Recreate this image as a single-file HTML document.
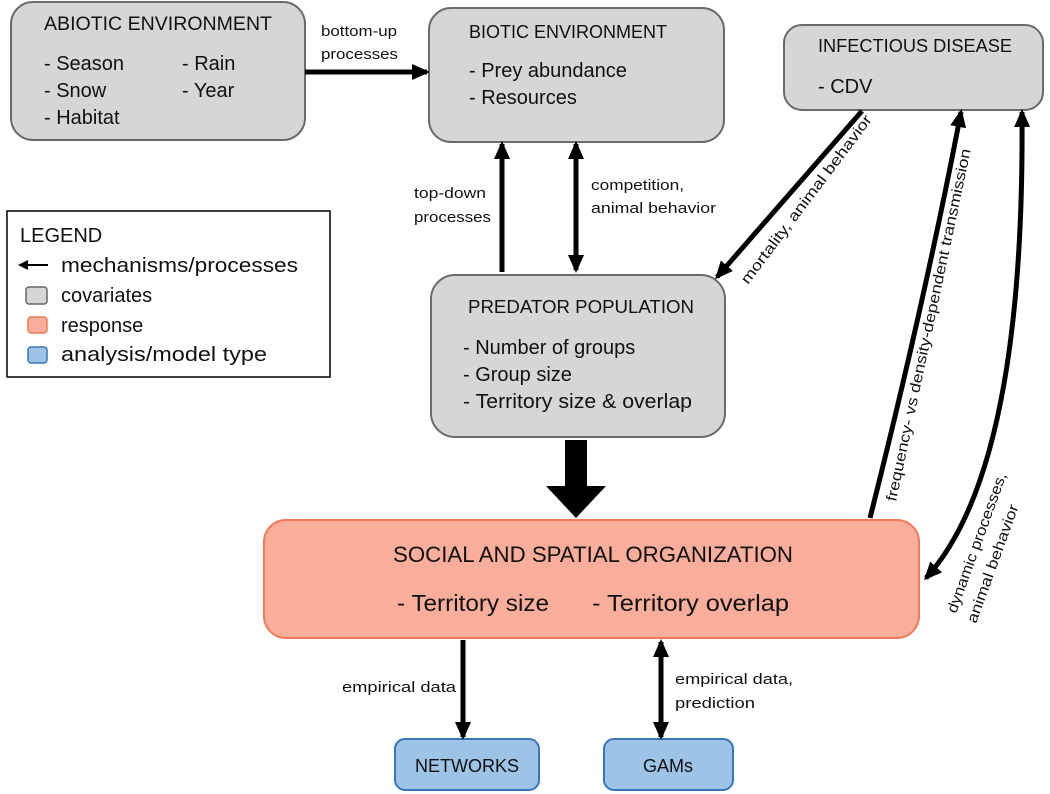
<!DOCTYPE html>
<html><head><meta charset="utf-8"><style>
html,body{margin:0;padding:0;background:#fff;}
svg{display:block;font-family:"Liberation Sans",sans-serif;}
</style></head><body>
<svg width="1050" height="794" viewBox="0 0 1050 794" xmlns="http://www.w3.org/2000/svg">
<defs>
<marker id="ah" markerWidth="10" markerHeight="10" refX="8" refY="5" orient="auto-start-reverse" markerUnits="userSpaceOnUse" viewBox="0 0 10 10">
<path d="M0,0 L10,5 L0,10 z" fill="#000"/>
</marker>
<marker id="ah2" markerWidth="18" markerHeight="18" refX="15" refY="9" orient="auto-start-reverse" markerUnits="userSpaceOnUse" viewBox="0 0 18 18">
<path d="M0,1 L18,9 L0,17 z" fill="#000"/>
</marker>
</defs>
<rect x="11" y="2" width="294" height="138" rx="22" fill="#d6d6d6" stroke="#6a6a6a" stroke-width="2"/>
<rect x="429" y="8" width="295" height="134" rx="22" fill="#d6d6d6" stroke="#6a6a6a" stroke-width="2"/>
<rect x="784" y="25" width="259" height="85" rx="18" fill="#d6d6d6" stroke="#6a6a6a" stroke-width="2"/>
<rect x="431" y="275" width="294" height="162" rx="24" fill="#d6d6d6" stroke="#6a6a6a" stroke-width="2"/>
<rect x="264" y="520" width="655" height="118" rx="22" fill="#f9ae9c" stroke="#f07a5a" stroke-width="2"/>
<rect x="395" y="739" width="144" height="51" rx="10" fill="#9dc3e6" stroke="#3a76b7" stroke-width="2"/>
<rect x="604" y="739" width="129" height="51" rx="10" fill="#9dc3e6" stroke="#3a76b7" stroke-width="2"/>
<rect x="7" y="211" width="323" height="166" fill="#fff" stroke="#000" stroke-width="1.5"/>

<g fill="#111" font-size="20">
<text x="44" y="30" font-size="19" textLength="228" lengthAdjust="spacingAndGlyphs">ABIOTIC ENVIRONMENT</text>
<text x="44" y="70">- Season</text><text x="182" y="70">- Rain</text>
<text x="44" y="97">- Snow</text><text x="182" y="97">- Year</text>
<text x="44" y="124">- Habitat</text>
<text x="469" y="38" font-size="18" textLength="198" lengthAdjust="spacingAndGlyphs">BIOTIC ENVIRONMENT</text>
<text x="469" y="77">- Prey abundance</text>
<text x="469" y="104">- Resources</text>
<text x="818" y="52" font-size="18" textLength="194" lengthAdjust="spacingAndGlyphs">INFECTIOUS DISEASE</text>
<text x="818" y="93">- CDV</text>
<text x="468" y="313" font-size="18" textLength="226" lengthAdjust="spacingAndGlyphs">PREDATOR POPULATION</text>
<text x="463" y="354">- Number of groups</text>
<text x="463" y="381">- Group size</text>
<text x="463" y="408" textLength="229" lengthAdjust="spacingAndGlyphs">- Territory size &amp; overlap</text>
<text x="393" y="562" font-size="22" textLength="400" lengthAdjust="spacingAndGlyphs">SOCIAL AND SPATIAL ORGANIZATION</text>
<text x="397" y="611" font-size="23" textLength="152" lengthAdjust="spacingAndGlyphs">- Territory size</text>
<text x="592" y="611" font-size="23" textLength="197" lengthAdjust="spacingAndGlyphs">- Territory overlap</text>
<text x="467" y="772" font-size="18" text-anchor="middle">NETWORKS</text>
<text x="668" y="772" font-size="18" text-anchor="middle">GAMs</text>
<text x="20" y="242">LEGEND</text>
<text x="61" y="272" textLength="237" lengthAdjust="spacingAndGlyphs">mechanisms/processes</text>
<text x="61" y="302">covariates</text>
<text x="61" y="332">response</text>
<text x="61" y="361" textLength="206" lengthAdjust="spacingAndGlyphs">analysis/model type</text>
</g>
<line x1="48" y1="265" x2="20" y2="265" stroke="#000" stroke-width="2" marker-end="url(#ah)"/>
<rect x="26" y="287" width="21" height="17" rx="3" fill="#d6d6d6" stroke="#666" stroke-width="1.5"/>
<rect x="28" y="317" width="19" height="16" rx="3" fill="#f9ae9c" stroke="#f07a5a" stroke-width="1.5"/>
<rect x="28" y="347" width="19" height="16" rx="3" fill="#9dc3e6" stroke="#3a76b7" stroke-width="1.5"/>

<g stroke="#000" stroke-width="5" fill="none">
<line x1="305" y1="72" x2="427" y2="72" marker-end="url(#ah2)"/>
<line x1="502" y1="272" x2="502" y2="144" marker-end="url(#ah2)"/>
<line x1="576" y1="270" x2="576" y2="144" marker-end="url(#ah2)" marker-start="url(#ah2)"/>
<line x1="862" y1="111" x2="717" y2="277" marker-end="url(#ah2)"/>
<path d="M870,518 Q925,300 961,112" marker-end="url(#ah2)"/>
<path d="M1022,112 Q1025,470 926,578" marker-end="url(#ah2)" marker-start="url(#ah2)"/>
<line x1="463" y1="640" x2="463" y2="737" marker-end="url(#ah2)"/>
<line x1="661" y1="642" x2="661" y2="737" marker-end="url(#ah2)" marker-start="url(#ah2)"/>
</g>
<path d="M565,440 L587,440 L587,486 L606,486 L576,518 L546,486 L565,486 z" fill="#000"/>

<g fill="#111" font-size="15">
<text x="321" y="36" textLength="76" lengthAdjust="spacingAndGlyphs">bottom-up</text>
<text x="321" y="59" textLength="77" lengthAdjust="spacingAndGlyphs">processes</text>
<text x="414" y="198" textLength="72" lengthAdjust="spacingAndGlyphs">top-down</text>
<text x="414" y="222" textLength="77" lengthAdjust="spacingAndGlyphs">processes</text>
<text x="591" y="190" textLength="93" lengthAdjust="spacingAndGlyphs">competition,</text>
<text x="591" y="213" textLength="125" lengthAdjust="spacingAndGlyphs">animal behavior</text>
<text x="342" y="692" textLength="114" lengthAdjust="spacingAndGlyphs">empirical data</text>
<text x="675" y="684" textLength="118" lengthAdjust="spacingAndGlyphs">empirical data,</text>
<text x="675" y="708" textLength="80" lengthAdjust="spacingAndGlyphs">prediction</text>
<text transform="translate(748,285) rotate(-53)" textLength="207" lengthAdjust="spacingAndGlyphs">mortality, animal behavior</text>
<text transform="translate(896,502) rotate(-78)" textLength="360" lengthAdjust="spacingAndGlyphs">frequency- vs density-dependent transmission</text>
<text transform="translate(956,614) rotate(-70)" textLength="148" lengthAdjust="spacingAndGlyphs">dynamic processes,</text>
<text transform="translate(976,624) rotate(-70)" textLength="125" lengthAdjust="spacingAndGlyphs">animal behavior</text>
</g>
</svg>
</body></html>
